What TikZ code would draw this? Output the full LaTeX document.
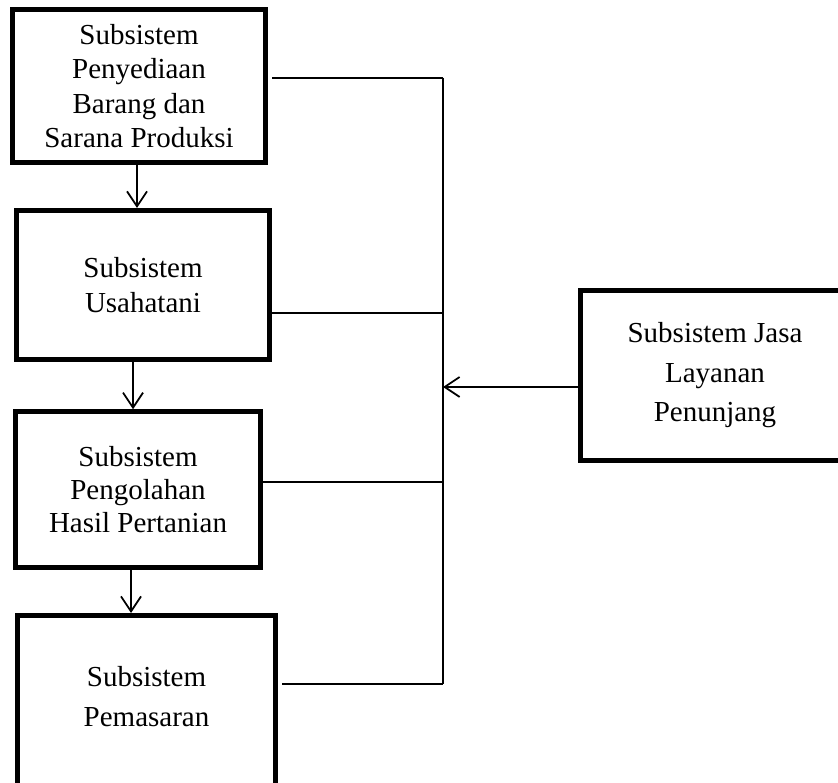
\documentclass[tikz,border=0pt]{standalone}
\usepackage{fontspec}
\setmainfont{Liberation Serif}
\usetikzlibrary{arrows.meta}
\begin{document}
\begin{tikzpicture}[x=1pt,y=-1pt,
  box/.style={draw, line width=5pt, inner sep=0pt, align=center,
    font=\fontsize{29}{34.5}\selectfont},
  txt/.style={inner sep=0pt, align=center, font=\fontsize{29}{39.5}\selectfont},
  link/.style={line width=1.8pt},
  arr/.style={line width=1.8pt, -{Straight Barb[length=15pt,width=20pt,line width=1.8pt]}}]
\useasboundingbox (0,0) rectangle (838,783);
\clip (0,0) rectangle (838,783);

% subsystem boxes
\node[box, minimum width=253, minimum height=152.7] (b1) at (139,86.2)
  {Subsistem\\Penyediaan\\Barang dan\\Sarana Produksi};
\node[box, minimum width=253, minimum height=149] (b2) at (143,285)
  {Subsistem\\Usahatani};
\node[box, minimum width=245, minimum height=155.5,
  font=\fontsize{29}{33}\selectfont] (b3) at (138,489.5)
  {Subsistem\\Pengolahan\\Hasil Pertanian};
\node[box, minimum width=258, minimum height=184.5] (b4) at (146.5,707.75) {};
\node[txt] (t4) at (146.5,696.5) {Subsistem\\Pemasaran};
\node[box, minimum width=269, minimum height=170,
  font=\fontsize{29}{39.5}\selectfont] (b5) at (715,375.5)
  {Subsistem Jasa\\Layanan\\Penunjang};

% collector bus
\coordinate (j1) at (443,77.7);
\coordinate (j2) at (443,313);
\coordinate (jm) at (443,387);
\coordinate (j3) at (443,482);
\coordinate (j4) at (443,684);
\draw[link] (j1) -- (j4);
\draw[link] ([xshift=4pt]b1.east |- j1) -- (j1);
\draw[link] ([xshift=-5pt]b2.east |- j2) -- (j2);
\draw[link] (b3.east |- j3) -- (j3);
\draw[link] ([xshift=4pt]b4.east |- j4) -- (j4);
\draw[arr] (b5.west |- jm) -- (jm);

% flow between the chain
\draw[arr] ([xshift=-2pt]b1.south) -- ([xshift=-6pt]b2.north);
\draw[arr] ([xshift=-10pt]b2.south) -- ([xshift=-5pt]b3.north);
\draw[arr] ([xshift=-7pt]b3.south) -- ([xshift=-15.5pt]b4.north);
\end{tikzpicture}
\end{document}
